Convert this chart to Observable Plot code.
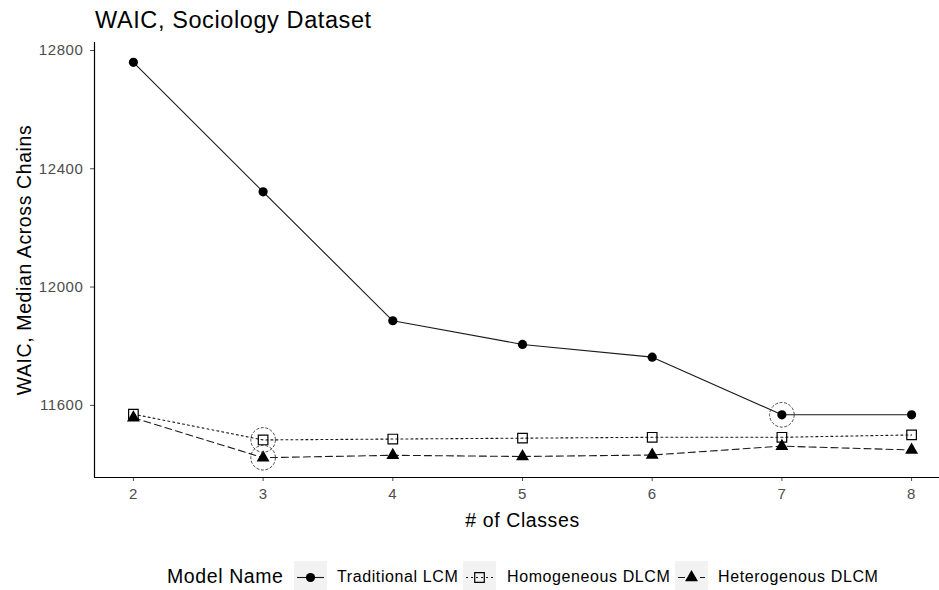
<!DOCTYPE html>
<html><head><meta charset="utf-8">
<script src="https://cdn.jsdelivr.net/npm/d3@7"></script>
<script src="https://cdn.jsdelivr.net/npm/@observablehq/plot@0.6"></script>
<style>
html,body{margin:0;padding:0;background:#fff;overflow:hidden;width:939px;height:590px;}
body{font-family:"Liberation Sans",Arial,sans-serif;}
#title{height:36px;box-sizing:border-box;padding:3px 0 0 95px;line-height:34px;font-size:23.5px;letter-spacing:0.6px;color:#000;white-space:nowrap;}
#chart{width:939px;height:504px;overflow:hidden;}
#chart svg{max-width:none !important;width:950px;height:504px;}
#chart svg text{letter-spacing:0.6px;}
#legend{position:relative;height:50px;width:939px;}
#legend .t{position:absolute;white-space:nowrap;line-height:1;transform:translateY(-50%);color:#000;letter-spacing:0.6px;}
#legend svg{position:absolute;}
</style></head><body>
<div id="title"></div>
<div id="chart"></div>
<div id="legend"></div>
<script>
// ---- data ----
const chartTitle = "WAIC, Sociology Dataset";
const xTitle = "# of Classes";
const yTitle = "WAIC, Median Across Chains";
const legendTitle = "Model Name";
const classes = [2, 3, 4, 5, 6, 7, 8];
const modelNames = ["Traditional LCM", "Homogeneous DLCM", "Heterogenous DLCM"];
const traditional   = [12760, 12322, 11886, 11806, 11763, 11568, 11568];
const homogeneous   = [11570, 11483, 11486, 11489, 11492, 11492, 11500];
const heterogeneous = [11558, 11423, 11431, 11427, 11432, 11462, 11449];
const bestClass = [7, 3, 3];
const yTicks = [11600, 12000, 12400, 12800];
const xTicks = [2, 3, 4, 5, 6, 7, 8];

// ---- styles ----
const seriesValues = [traditional, homogeneous, heterogeneous];
const styles = [
  {dash: null,  symbol: "circle",   fill: "black", stroke: "none",  r: 4.6, sw: 0},
  {dash: "2,3", symbol: "square",   fill: "none",  stroke: "black", r: 5.4, sw: 1.2},
  {dash: "7,4", symbol: "triangle", fill: "black", stroke: "none",  r: 4.8, sw: 0}
];

document.getElementById("title").textContent = chartTitle;

const series = modelNames.map((m, j) => classes.map((k, i) => ({model: m, k, waic: seriesValues[j][i]})));
const best = modelNames.map((m, j) => ({model: m, k: bestClass[j], waic: seriesValues[j][classes.indexOf(bestClass[j])]}));

const marks = [];
series.forEach((rows, j) => {
  marks.push(Plot.line(rows, {x: "k", y: "waic", stroke: "#1a1a1a", strokeWidth: 1.1, strokeDasharray: styles[j].dash}));
});
series.forEach((rows, j) => {
  const s = styles[j];
  marks.push(Plot.dot(rows, {x: "k", y: "waic", symbol: s.symbol, r: s.r, fill: s.fill, stroke: s.stroke, strokeWidth: s.sw}));
});
marks.push(Plot.dot(best, {x: "k", y: "waic", r: 12.3, fill: "none", stroke: "#333", strokeWidth: 0.9, strokeDasharray: "3,1.6"}));

const yMin = 11356, yMax = 12827, xMin = 1.7, xMax = 8.3;

const plot = Plot.plot({
  width: 950, height: 504,
  marginLeft: 94, marginRight: 0, marginTop: 6, marginBottom: 63,
  style: {fontFamily: "Liberation Sans, Arial, sans-serif", fontSize: "15px", color: "#4d4d4d", background: "white", maxWidth: "none"},
  x: {domain: [xMin, xMax], label: null},
  y: {domain: [yMin, yMax], label: null},
  marks: [
    Plot.axisY({ticks: yTicks, tickFormat: d => String(d), tickSize: 4, tickPadding: 7, fontSize: 15, color: "#4d4d4d", label: null}),
    Plot.axisX({ticks: xTicks, tickFormat: d => String(d), tickSize: 4, tickPadding: 7, fontSize: 15, color: "#4d4d4d", label: null}),
    Plot.ruleX([xMin], {stroke: "black", strokeWidth: 1.2}),
    Plot.ruleY([yMin], {stroke: "black", strokeWidth: 1.2}),
    Plot.text([xTitle], {frameAnchor: "bottom", dy: 43, fontSize: 19.5, fill: "black", lineAnchor: "middle", textAnchor: "middle"}),
    Plot.text([yTitle], {frameAnchor: "left", dx: -70, rotate: -90, fontSize: 19.5, fill: "black", lineAnchor: "middle", textAnchor: "middle"}),
    ...marks
  ]
});
document.getElementById("chart").appendChild(plot);

// ---- legend ----
const legend = document.getElementById("legend");
const cy = 37;
function addText(txt, left, size) {
  const d = document.createElement("div");
  d.className = "t"; d.textContent = txt;
  d.style.left = left + "px"; d.style.top = cy + "px"; d.style.fontSize = size + "px";
  legend.appendChild(d);
}
addText(legendTitle, 167, 19.5);
const boxLefts = [294, 463, 675];
const labelLefts = [337, 507, 718];
const ns = "http://www.w3.org/2000/svg";
modelNames.forEach((m, j) => {
  const s = styles[j];
  const svg = document.createElementNS(ns, "svg");
  svg.setAttribute("width", 33); svg.setAttribute("height", 33);
  svg.style.left = boxLefts[j] + "px"; svg.style.top = (cy - 16.5) + "px";
  const rect = document.createElementNS(ns, "rect");
  rect.setAttribute("width", 33); rect.setAttribute("height", 33); rect.setAttribute("fill", "#f2f2f2");
  svg.appendChild(rect);
  const ln = document.createElementNS(ns, "line");
  ln.setAttribute("x1", 3); ln.setAttribute("x2", 30); ln.setAttribute("y1", 16.5); ln.setAttribute("y2", 16.5);
  ln.setAttribute("stroke", "#1a1a1a"); ln.setAttribute("stroke-width", 1.1);
  if (s.dash) ln.setAttribute("stroke-dasharray", s.dash);
  svg.appendChild(ln);
  const sym = {circle: d3.symbolCircle, square: d3.symbolSquare, triangle: d3.symbolTriangle}[s.symbol];
  const p = document.createElementNS(ns, "path");
  p.setAttribute("d", d3.symbol(sym, Math.PI * s.r * s.r)());
  p.setAttribute("transform", "translate(16.5,16.5)");
  p.setAttribute("fill", s.fill); p.setAttribute("stroke", s.stroke); p.setAttribute("stroke-width", s.sw);
  svg.appendChild(p);
  legend.appendChild(svg);
  addText(m, labelLefts[j], 16);
});
</script>
</body></html>
